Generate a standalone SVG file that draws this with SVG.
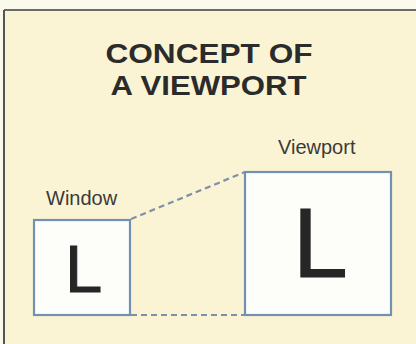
<svg xmlns="http://www.w3.org/2000/svg" width="416" height="344" viewBox="0 0 416 344">
  <style>
    .title { font-family: "Liberation Sans", Arial, sans-serif; font-weight: bold; font-size: 28px; fill: #2b2b2b; text-anchor: middle; }
    .label { font-family: "Liberation Sans", Arial, sans-serif; font-size: 20px; fill: #3a3a3a; }
    .glyph { font-family: "Liberation Sans", Arial, sans-serif; fill: #262626; stroke: #262626; stroke-width: 1; }
    .box { fill: #fdfdf9; stroke: #7290b4; stroke-width: 2.2; }
    .dash { stroke: #7d90a8; stroke-width: 2.2; stroke-dasharray: 6 4; fill: none; }
  </style>
  <rect x="0" y="0" width="416" height="344" fill="#fbf9ec"/>
  <rect x="4" y="10" width="420" height="340" fill="#faf4d4"/>
  <line x1="4" y1="10" x2="416" y2="10" stroke="#6a6a66" stroke-width="2"/>
  <line x1="4" y1="10" x2="4" y2="344" stroke="#555552" stroke-width="2"/>
  <g id="title">
    <text class="title" x="209" y="63" textLength="207" lengthAdjust="spacingAndGlyphs">CONCEPT OF</text>
    <text class="title" x="208.5" y="94.5" textLength="196" lengthAdjust="spacingAndGlyphs">A VIEWPORT</text>
  </g>
  <g id="connectors">
    <line class="dash" x1="131" y1="219" x2="245" y2="172"/>
    <line class="dash" x1="131" y1="315" x2="245" y2="315"/>
  </g>
  <g id="window">
    <text class="label" x="46" y="205">Window</text>
    <rect class="box" x="34" y="220" width="96" height="95"/>
    <text class="glyph" x="65" y="292" font-size="67">L</text>
  </g>
  <g id="viewport">
    <text class="label" x="278" y="154">Viewport</text>
    <rect class="box" x="245" y="172" width="146" height="143"/>
    <text class="glyph" x="292.7" y="277" font-size="99">L</text>
  </g>
</svg>
